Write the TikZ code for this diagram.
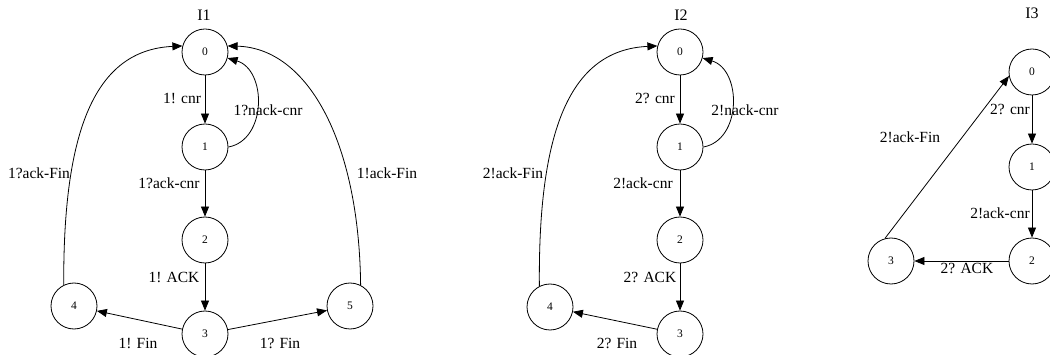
\documentclass[tikz,border=0pt]{standalone}
\usepackage{fontspec}
\setmainfont{Liberation Serif}
\usetikzlibrary{arrows.meta}
\begin{document}
\begin{tikzpicture}[x=1pt, y=-1pt,
  state/.style={draw, circle, minimum size=46pt, inner sep=0pt, font=\fontsize{11.5}{13}\selectfont},
  lbl/.style={font=\fontsize{15.5}{18}\selectfont, inner sep=0pt},
  ttl/.style={font=\fontsize{16}{19}\selectfont, inner sep=0pt},
  every path/.style={line width=0.8pt},
  >={Triangle[length=10pt,width=8pt]}]
\useasboundingbox (0,0) rectangle (1050,355);

% I1
\node[ttl] (ta) at (204,15) {I1};
\node[state] (a0) at (205,52) {0};
\node[state] (a1) at (205,147) {1};
\node[state] (a2) at (205,240) {2};
\node[state] (a3) at (205,334) {3};
\node[state] (a4) at (74,306) {4};
\node[state] (a5) at (350,306) {5};
\draw[->] (a0) -- (a1);
\draw[->] (a1) -- (a2);
\draw[->] (a2) -- (a3);
\draw[->] (a3) -- (a4);
\draw[->] (a3) -- (a5);
\draw[->] (a1.east) .. controls (267,140) and (267,70) .. (a0.-15);
\draw[->] (a4.116) .. controls (63,130) and (95,50) .. (a0.165);
\draw[->] (a5.63) .. controls (359,140) and (307,48) .. (a0.15);
\node[lbl] (la01) at (182,98) {1! cnr};
\node[lbl] (la10) at (268,110) {1?nack-cnr};
\node[lbl] (la12) at (169,183) {1?ack-cnr};
\node[lbl] (la23) at (174,277) {1! ACK};
\node[lbl] (la34) at (138,343) {1! Fin};
\node[lbl] (la35) at (280,343) {1? Fin};
\node[lbl] (la40) at (39,173) {1?ack-Fin};
\node[lbl] (la50) at (387,173) {1!ack-Fin};

% I2
\node[ttl] (tb) at (681,15) {I2};
\node[state] (b0) at (680,52) {0};
\node[state] (b1) at (680,147) {1};
\node[state] (b2) at (680,240) {2};
\node[state] (b3) at (680,334) {3};
\node[state] (b4) at (550,307) {4};
\draw[->] (b0) -- (b1);
\draw[->] (b1) -- (b2);
\draw[->] (b2) -- (b3);
\draw[->] (b3) -- (b4);
\draw[->] (b1.east) .. controls (742,140) and (742,70) .. (b0.-15);
\draw[->] (b4.117) .. controls (538,130) and (570,50) .. (b0.165);
\node[lbl] (lb01) at (655,98) {2? cnr};
\node[lbl] (lb10) at (745,110) {2!nack-cnr};
\node[lbl] (lb12) at (643,183) {2!ack-cnr};
\node[lbl] (lb23) at (650,277) {2? ACK};
\node[lbl] (lb34) at (617,343) {2? Fin};
\node[lbl] (lb40) at (513,173) {2!ack-Fin};

% I3
\node[ttl] (tc) at (1032,13) {I3};
\node[state] (c0) at (1032,72) {0};
\node[state] (c1) at (1032,167) {1};
\node[state] (c2) at (1032,261) {2};
\node[state] (c3) at (891,261) {3};
\draw[->] (c0) -- (c1);
\draw[->] (c1) -- (c2);
\draw[->] (c2) -- (c3);
\draw[->] (c3.105) -- (c0.190);
\node[lbl] (lc01) at (1010,109) {2? cnr};
\node[lbl] (lc30) at (910,137) {2!ack-Fin};
\node[lbl] (lc12) at (1000,213) {2!ack-cnr};
\node[lbl] (lc23) at (967,268) {2? ACK};
\end{tikzpicture}
\end{document}
